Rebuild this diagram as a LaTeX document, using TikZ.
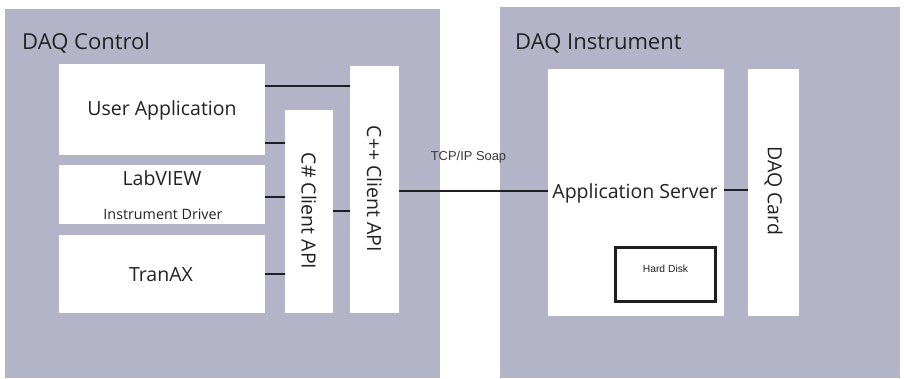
\documentclass[tikz,border=0pt]{standalone}
\usepackage{fontspec}
\setmainfont{Open Sans}
\newfontfamily\arialf{Liberation Sans}
\definecolor{panel}{RGB}{179,180,200}
\definecolor{ink}{RGB}{34,34,34}
\definecolor{lineink}{RGB}{30,30,36}
\begin{document}
\begin{tikzpicture}[x=1pt,y=-1pt,
  panelbox/.style={fill=panel,draw=none,rectangle,inner sep=0pt},
  whitebox/.style={fill=white,draw=none,rectangle,inner sep=0pt},
  txt/.style={text=ink,inner sep=0pt,font=\fontsize{19.5}{22}\selectfont},
  title/.style={text=ink,inner sep=0pt,anchor=base west,font=\fontsize{22}{26}\selectfont},
  small/.style={text=ink,inner sep=0pt,font=\fontsize{14.3}{16}\selectfont},
  conn/.style={draw=lineink,line width=2.8pt},
]
\useasboundingbox (0,0) rectangle (904,378);
\fill[white] (0,0) rectangle (904,378);
% panels
\node[panelbox,minimum width=435pt,minimum height=369pt] (ctrl) at (222.5,193.5) {};
\node[panelbox,minimum width=400pt,minimum height=371pt] (inst) at (700,192.5) {};
\node[title] (ctrlt) at (22,49) {DAQ Control};
\node[title] (instt) at (515,49) {DAQ Instrument};
% left boxes
\node[whitebox,minimum width=206pt,minimum height=91pt] (ua) at (162,109.5) {};
\node[txt] (uat) at (162,110) {User Application};
\node[whitebox,minimum width=206pt,minimum height=59pt] (lv) at (162,194.5) {};
\node[txt] (lvt) at (162,178) {LabVIEW};
\node[small] (lvd) at (163,214) {Instrument Driver};
\node[whitebox,minimum width=206pt,minimum height=78pt] (tx) at (162,274) {};
\node[txt] (txt1) at (161,275) {TranAX};
\node[whitebox,minimum width=48pt,minimum height=203pt] (cs) at (309,211.5) {};
\node[txt,rotate=-90] (cst) at (309,211) {C\# Client API};
\node[whitebox,minimum width=49pt,minimum height=247pt] (cpp) at (374.5,189.5) {};
\node[txt,rotate=-90] (cppt) at (374.5,189) {C++ Client API};
% right boxes
\node[whitebox,minimum width=176pt,minimum height=247pt] (as) at (636,192.5) {};
\node[txt] (ast) at (635,193) {Application Server};
\node[whitebox,minimum width=51pt,minimum height=247pt] (card) at (773.5,192.5) {};
\node[txt,rotate=-90] (cardt) at (773.5,191) {DAQ Card};
\node[rectangle,draw=lineink,line width=2.6pt,fill=white,minimum width=100.5pt,minimum height=54.5pt,inner sep=0pt] (hd) at (665.5,274.5) {};
\node[inner sep=0pt,text=ink,font=\arialf\fontsize{10.3}{12}\selectfont] (hdt) at (665.5,269) {Hard Disk};
\node[inner sep=0pt,text=ink!90,font=\arialf\fontsize{12.9}{15}\selectfont] (tcp) at (468.5,157) {TCP/IP Soap};
% connectors
\draw[conn] ([yshift=23.5pt]ua.east) -- ([yshift=23.5pt]ua.east -| cpp.west);
\draw[conn] ([yshift=-33.5pt]ua.east) -- ([yshift=-33.5pt]ua.east -| cs.west);
\draw[conn] ([yshift=-2.5pt]lv.east) -- ([yshift=-2.5pt]lv.east -| cs.west);
\draw[conn] (tx.east) -- (tx.east -| cs.west);
\draw[conn] ([yshift=0.5pt]cs.east) -- ([yshift=0.5pt]cs.east -| cpp.west);
\draw[conn] ([yshift=-1.5pt]cpp.east) -- ([yshift=-1.5pt]cpp.east -| as.west);
\draw[conn] ([yshift=2.5pt]as.east) -- ([yshift=2.5pt]as.east -| card.west);
\end{tikzpicture}
\end{document}
